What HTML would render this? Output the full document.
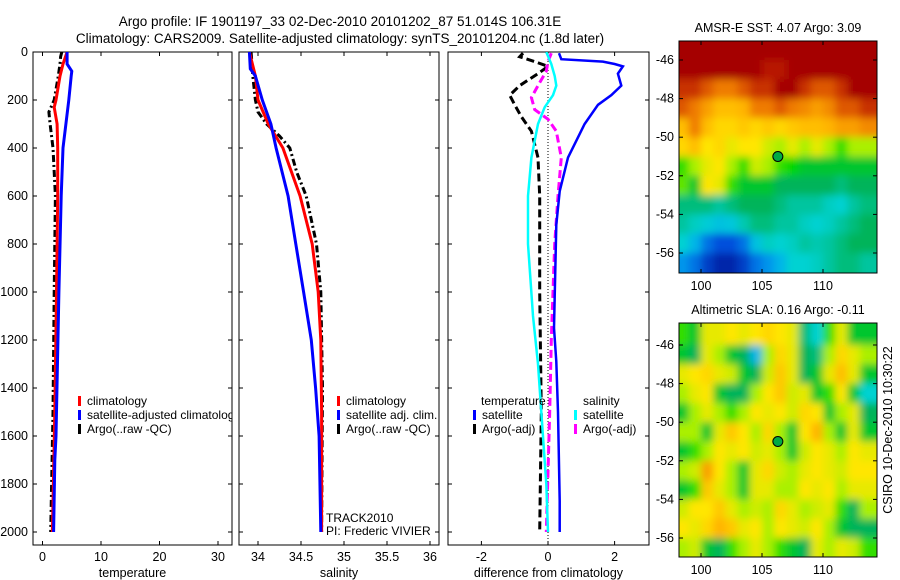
<!DOCTYPE html>
<html><head><meta charset="utf-8"><style>
html,body{margin:0;padding:0;background:#fff}
svg{display:block;font-family:"Liberation Sans",sans-serif}
</style></head><body>
<svg id="fig" width="900" height="580" viewBox="0 0 900 580">
<text x="340" y="26" font-size="13.5" text-anchor="middle">Argo profile: IF 1901197_33 02-Dec-2010 20101202_87 51.014S 106.31E</text>
<text x="340" y="43" font-size="13.5" text-anchor="middle">Climatology: CARS2009. Satellite-adjusted climatology: synTS_20101204.nc (1.8d later)</text>
<g id="layer"></g>
<text x="326" y="522" font-size="12">TRACK2010</text>
<text x="326" y="535" font-size="12">PI: Frederic VIVIER</text>
<text transform="translate(892,430) rotate(-90)" font-size="12.5" text-anchor="middle">CSIRO 10-Dec-2010 10:30:22</text>
</svg>
<script>
// ---------- data ----------
const depthTicks=[0,200,400,600,800,1000,1200,1400,1600,1800,2000];
const tempTicks=[0,10,20,30];
const salTicks=[34,34.5,35,35.5,36];
const salTickLabels=["34","34.5","35","35.5","36"];
const diffTicks=[-2,0,2];
const lonTicks=[100,105,110];
const latTicks=[-46,-48,-50,-52,-54,-56];

const tClimD=[0,50,100,200,230,300,400,600,1000,1500,2000];
const tClimV=[4.2,3.5,3.0,2.3,2.0,2.5,2.6,2.6,2.4,2.1,1.7];
const tSatD=[0,50,80,100,200,300,400,600,1000,1600,1700,2000];
const tSatV=[4.2,4.2,5.0,4.9,4.5,4.0,3.5,3.2,2.8,2.3,2.1,1.9];
const tArgoD=[0,20,50,100,200,250,300,400,600,1000,1500,2000];
const tArgoV=[3.3,3.1,3.0,2.7,2.0,1.1,1.3,1.8,2.2,2.0,1.8,1.4];

const sSatD=[0,70,100,200,300,400,600,800,1000,1200,1400,1600,2000];
const sSatV=[33.9,33.91,33.97,34.05,34.15,34.21,34.35,34.44,34.53,34.62,34.67,34.71,34.73];
const sClimD=[0,100,200,300,400,600,800,1000,1200,1500,2000];
const sClimV=[33.9,33.97,34.0,34.12,34.29,34.49,34.63,34.7,34.73,34.74,34.74];
const sArgoD=[0,100,200,250,300,350,400,500,600,800,1000,1400,2000];
const sArgoV=[33.92,33.94,33.97,34.0,34.1,34.25,34.37,34.45,34.56,34.68,34.73,34.75,34.74];

const dTSatD=[5,30,40,50,60,90,140,180,220,300,440,580,720,1150,1290,1500,1870,2000];
const dTSatV=[0.33,0.4,1.65,2.0,2.25,2.1,2.2,1.9,1.5,1.1,0.6,0.35,0.25,0.18,0.25,0.3,0.35,0.35];
const dTArgoD=[5,20,40,60,90,140,180,220,270,330,440,600,1000,1500,2000];
const dTArgoV=[-0.75,-0.85,-0.4,0,-0.3,-0.85,-1.15,-1.0,-0.8,-0.5,-0.3,-0.25,-0.25,-0.2,-0.25];
const dSSatD=[0,50,100,140,180,230,300,440,600,800,1100,1300,1500,1800,2000];
const dSSatV=[-0.05,0.1,0.2,0.25,0.15,-0.1,-0.3,-0.5,-0.6,-0.6,-0.45,-0.3,-0.2,-0.05,0.0];
const dSArgoD=[5,40,80,140,190,240,280,330,440,600,800,1200,1500,2000];
const dSArgoV=[0.1,0.0,-0.05,-0.3,-0.5,-0.4,0.0,0.25,0.4,0.3,0.2,0.1,0.05,-0.05];

// map grids: rows lat -45..-57 (1 deg), cols lon 98..114 (1 deg), colour index 0..1
const sstGrid=[
[1,1,1,1,1,1,1,1,1,1,1,1,1,1,1,1],
[1,1,1,1,1,1,1,0.95,0.95,1,1,1,1,1,1,1],
[0.9,0.9,0.85,0.8,0.8,0.85,0.9,0.9,1,1,0.9,0.85,0.85,0.9,1,1],
[0.85,0.8,0.75,0.7,0.7,0.72,0.8,0.8,0.85,0.8,0.78,0.75,0.78,0.85,0.85,0.9],
[0.7,0.8,0.7,0.65,0.65,0.68,0.65,0.68,0.65,0.68,0.7,0.7,0.72,0.75,0.75,0.78],
[0.65,0.7,0.62,0.65,0.6,0.62,0.62,0.58,0.55,0.6,0.55,0.6,0.55,0.5,0.55,0.55],
[0.5,0.55,0.6,0.62,0.55,0.5,0.58,0.55,0.5,0.48,0.45,0.45,0.45,0.45,0.45,0.45],
[0.52,0.45,0.62,0.6,0.5,0.45,0.45,0.45,0.42,0.42,0.42,0.42,0.42,0.4,0.42,0.42],
[0.4,0.4,0.4,0.38,0.4,0.42,0.42,0.42,0.4,0.38,0.38,0.38,0.36,0.35,0.38,0.4],
[0.38,0.36,0.34,0.32,0.33,0.37,0.4,0.4,0.38,0.38,0.36,0.35,0.36,0.38,0.4,0.42],
[0.35,0.3,0.2,0.15,0.15,0.2,0.32,0.36,0.35,0.36,0.38,0.37,0.38,0.4,0.42,0.42],
[0.25,0.2,0.12,0.08,0.08,0.12,0.2,0.25,0.3,0.35,0.35,0.36,0.38,0.4,0.4,0.38]];
const slaGrid=[
[0.5,0.45,0.6,0.6,0.62,0.6,0.62,0.65,0.62,0.6,0.4,0.35,0.5,0.6,0.45,0.45],
[0.45,0.42,0.6,0.55,0.45,0.42,0.3,0.55,0.65,0.6,0.42,0.4,0.55,0.65,0.6,0.55],
[0.6,0.62,0.65,0.6,0.58,0.45,0.42,0.58,0.68,0.6,0.42,0.45,0.6,0.7,0.6,0.45],
[0.55,0.6,0.62,0.45,0.42,0.42,0.55,0.62,0.68,0.58,0.6,0.45,0.5,0.62,0.45,0.35],
[0.45,0.55,0.6,0.55,0.5,0.55,0.62,0.6,0.62,0.58,0.65,0.62,0.45,0.55,0.6,0.42],
[0.55,0.55,0.45,0.6,0.68,0.62,0.55,0.65,0.55,0.45,0.62,0.72,0.55,0.45,0.6,0.45],
[0.45,0.5,0.55,0.62,0.6,0.62,0.58,0.6,0.55,0.45,0.58,0.62,0.6,0.55,0.62,0.6],
[0.55,0.58,0.75,0.62,0.55,0.45,0.6,0.65,0.58,0.55,0.6,0.62,0.6,0.58,0.62,0.62],
[0.45,0.5,0.68,0.6,0.55,0.45,0.6,0.6,0.55,0.55,0.62,0.6,0.62,0.55,0.6,0.6],
[0.58,0.62,0.62,0.68,0.6,0.55,0.58,0.55,0.65,0.6,0.55,0.58,0.6,0.5,0.42,0.55],
[0.62,0.6,0.65,0.72,0.68,0.6,0.62,0.55,0.62,0.6,0.58,0.62,0.55,0.45,0.42,0.42],
[0.55,0.58,0.45,0.42,0.5,0.55,0.6,0.55,0.5,0.45,0.42,0.6,0.55,0.6,0.58,0.5]];
const argoLon=106.3, argoLat=-51.0;

// ---------- helpers ----------
const NS="http://www.w3.org/2000/svg";
const layer=document.getElementById('layer');
function mk(tag,attrs,parent){const e=document.createElementNS(NS,tag);for(const k in attrs)e.setAttribute(k,attrs[k]);(parent||layer).appendChild(e);return e;}
const yD=d=>52+d*0.24;
const xT=t=>42.5+t*5.85;
const xS=s=>258+(s-34)*86;
const xF=v=>548+v*33.3;
const mxLon=l=>701+(l-100)*12.2;
const myLat1=l=>60+(-46-l)*19.3;
const myLat2=l=>345+(-46-l)*19.3;

function panel(name,x0,x1,xf,xticks,xlabels,xtitle){
  const g=mk('g',{});
  
  
  const r=mk('rect',{x:x0,y:52,width:x1-x0,height:493,fill:'none',stroke:'#000','stroke-width':1},g);
  
  
  depthTicks.forEach(d=>{
    mk('line',{x1:x0,x2:x0+4,y1:yD(d),y2:yD(d),stroke:'#000'},g);
    mk('line',{x1:x1,x2:x1-4,y1:yD(d),y2:yD(d),stroke:'#000'},g);
  });
  xticks.forEach((v,i)=>{
    const x=xf(v);
    mk('line',{x1:x,x2:x,y1:545,y2:541,stroke:'#000'},g);
    mk('line',{x1:x,x2:x,y1:52,y2:56,stroke:'#000'},g);
    const t=mk('text',{x:x,y:561,'font-size':12.5,'text-anchor':'middle'},g);
    t.textContent=xlabels[i];
    
    
  });
  const tt=mk('text',{x:(x0+x1)/2,y:577,'font-size':12.5,'text-anchor':'middle'},g);
  tt.textContent=xtitle;
  
  
  return g;
}
function series(g,name,D,V,xf,color,dash,w,clipId){
  const pts=D.map((d,i)=>xf(V[i]).toFixed(1)+','+yD(d).toFixed(1)).join(' ');
  const p=mk('polyline',{points:pts,fill:'none',stroke:color,'stroke-width':w,'stroke-dasharray':dash||'none','clip-path':'url(#'+clipId+')'},g);
  
  
}
function legend(g,name,x,y,color,label){
  const b=mk('rect',{x:x,y:y-8,width:3,height:10,fill:color},g);
  
  
  const t=mk('text',{x:x+9,y:y+1,'font-size':12},g);
  t.textContent=label;
  
  
  return t;
}
const defs=mk('defs',{});
[['c1',33,232],['c2',239,439],['c3',448,649]].forEach(([id,a,b])=>{const c=mk('clipPath',{id:id},defs);mk('rect',{x:a,y:52,width:b-a,height:493},c);});
const blur=mk('filter',{id:'blur',x:'-10%',y:'-10%',width:'120%',height:'120%'},defs);
mk('feGaussianBlur',{stdDeviation:4},blur);

// ---------- panel 1: temperature ----------
const g1=panel('temperature-panel',33,232,xT,tempTicks,tempTicks.map(String),'temperature');
depthTicks.forEach(d=>{const t=mk('text',{x:28,y:yD(d)+4,'font-size':12.5,'text-anchor':'end'},g1);t.textContent=String(d);});
series(g1,'temp-argo-line',tArgoD,tArgoV,xT,'#000','7,3,2,3',3,'c1');
series(g1,'temp-climatology-line',tClimD,tClimV,xT,'#f00',null,3,'c1');
series(g1,'temp-satellite-line',tSatD,tSatV,xT,'#00f',null,3,'c1');
legend(g1,'legend-climatology',78,404,'#f00','climatology');
legend(g1,'legend-satellite-adjusted',78,418,'#00f','satellite-adjusted climatology').setAttribute('clip-path','url(#c1)');
legend(g1,'legend-argo-raw',78,432,'#000','Argo(..raw -QC)');

// ---------- panel 2: salinity ----------
const g2=panel('salinity-panel',239,439,xS,salTicks,salTickLabels,'salinity');
series(g2,'sal-argo-line',sArgoD,sArgoV,xS,'#000','7,3,2,3',3,'c2');
series(g2,'sal-climatology-line',sClimD,sClimV,xS,'#f00',null,3,'c2');
series(g2,'sal-satellite-line',sSatD,sSatV,xS,'#00f',null,3,'c2');
legend(g2,'legend-sal-climatology',337,404,'#f00','climatology');
legend(g2,'legend-sal-satellite',337,418,'#00f','satellite adj. clim.');
legend(g2,'legend-sal-argo',337,432,'#000','Argo(..raw -QC)');

// ---------- panel 3: difference ----------
const g3=panel('difference-panel',448,649,xF,diffTicks,diffTicks.map(String),'difference from climatology');
const zl=mk('line',{x1:xF(0),x2:xF(0),y1:52,y2:545,stroke:'#000','stroke-width':1,'stroke-dasharray':'1,2'},g3);


series(g3,'diff-temp-argo-line',dTArgoD,dTArgoV,xF,'#000','8,4',3,'c3');
series(g3,'diff-sal-argo-line',dSArgoD,dSArgoV,xF,'#f0f','8,4',3,'c3');
series(g3,'diff-sal-satellite-line',dSSatD,dSSatV,xF,'#0ff',null,2.5,'c3');
series(g3,'diff-temp-satellite-line',dTSatD,dTSatV,xF,'#00f',null,2.5,'c3');
const lt=mk('text',{x:481,y:405,'font-size':12},g3);lt.textContent='temperature';
const ls=mk('text',{x:583,y:405,'font-size':12},g3);ls.textContent='salinity';
legend(g3,'legend-diff-temp-satellite',473,418,'#00f','satellite');
legend(g3,'legend-diff-temp-argo',473,432,'#000','Argo(-adj)');
legend(g3,'legend-diff-sal-satellite',574,418,'#0ff','satellite');
legend(g3,'legend-diff-sal-argo',574,432,'#f0f','Argo(-adj)');

// ---------- maps ----------
const cmapStops=[[0,[0,30,140]],[0.08,[0,40,170]],[0.15,[0,80,220]],[0.28,[0,170,240]],[0.35,[0,210,210]],[0.42,[0,180,90]],[0.48,[0,215,0]],[0.55,[170,240,0]],[0.62,[255,230,0]],[0.72,[255,180,0]],[0.82,[235,110,0]],[0.9,[200,50,0]],[1,[165,0,0]]];
function cmap(v){
  for(let i=1;i<cmapStops.length;i++){
    const [a,ca]=cmapStops[i-1],[b,cb]=cmapStops[i];
    if(v<=b){const t=(v-a)/(b-a);return 'rgb('+ca.map((c,k)=>Math.round(c+(cb[k]-c)*t)).join(',')+')';}
  }
  return 'rgb(165,0,0)';
}
function mapPanel(name,title,grid,top,bottom,myLat){
  const g=mk('g',{});
  
  
  const cid=name+'-clip';const c=mk('clipPath',{id:cid},defs);mk('rect',{x:679,y:top,width:198,height:bottom-top},c);
  const outer=mk('g',{'clip-path':'url(#'+cid+')'},g);
  const cells=mk('g',{filter:'url(#blur)'},outer);
  const nr=grid.length;
  grid.forEach((row,ri)=>row.forEach((v,ci)=>{
    let x0=mxLon(98+ci), x1=mxLon(99+ci), y0=myLat(-45-ri), y1=myLat(-46-ri);
    if(ci===0)x0-=15; if(ci===row.length-1)x1+=20;
    if(ri===0)y0-=15; if(ri===nr-1)y1+=15;
    const r=mk('rect',{x:x0,y:y0,width:x1-x0+0.5,height:y1-y0+0.5,fill:cmap(v)},cells);
    
    
  }));
  const f=mk('rect',{x:679,y:top,width:198,height:bottom-top,fill:'none',stroke:'#000'},g);
  
  
  lonTicks.forEach(l=>{
    const x=mxLon(l);
    mk('line',{x1:x,x2:x,y1:bottom,y2:bottom-4,stroke:'#000'},g);
    mk('line',{x1:x,x2:x,y1:top,y2:top+4,stroke:'#000'},g);
    const t=mk('text',{x:x,y:bottom+17,'font-size':12.5,'text-anchor':'middle'},g);t.textContent=String(l);
    
    
  });
  latTicks.forEach(l=>{
    const y=myLat(l);
    mk('line',{x1:679,x2:683,y1:y,y2:y,stroke:'#000'},g);
    mk('line',{x1:877,x2:873,y1:y,y2:y,stroke:'#000'},g);
    const t=mk('text',{x:674,y:y+4,'font-size':12.5,'text-anchor':'end'},g);t.textContent=String(l);
    
    
  });
  const tt=mk('text',{x:778,y:top-9,'font-size':12.5,'text-anchor':'middle'},g);tt.textContent=title;
  
  
  const dot=mk('circle',{cx:mxLon(argoLon),cy:myLat(argoLat),r:5,fill:'#0a4',stroke:'#000','stroke-width':1},g);
  
  
}
mapPanel('sst-map','AMSR-E SST: 4.07 Argo: 3.09',sstGrid,41,273,myLat1);
mapPanel('sla-map','Altimetric SLA: 0.16 Argo: -0.11',slaGrid,323,557,myLat2);
</script>
</body></html>
